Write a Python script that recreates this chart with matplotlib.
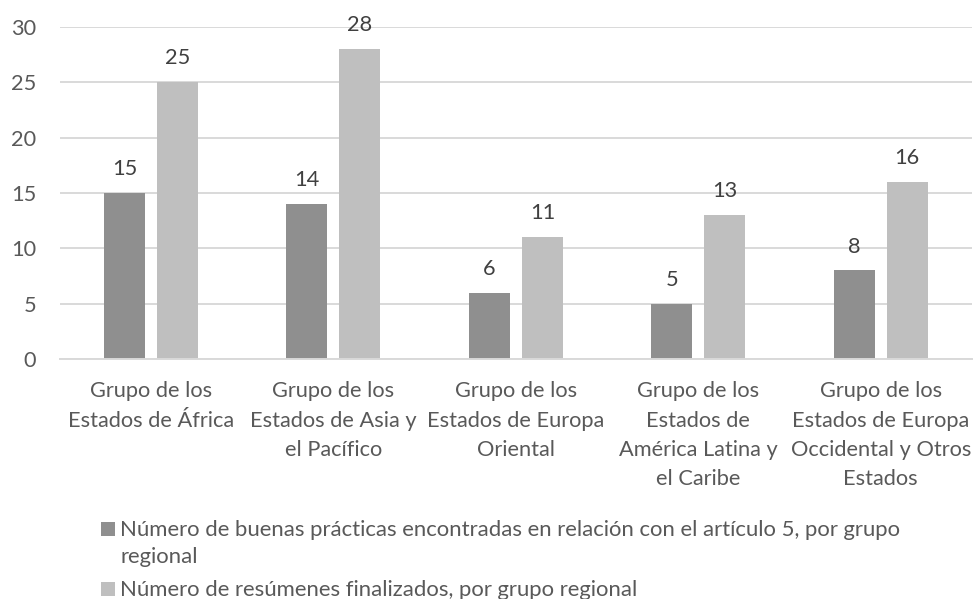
import numpy as np
import matplotlib.pyplot as plt
from matplotlib.patches import Rectangle

# datos del grafico
grupos = [
    "Grupo de los\nEstados de África",
    "Grupo de los\nEstados de Asia y\nel Pacífico",
    "Grupo de los\nEstados de Europa\nOriental",
    "Grupo de los\nEstados de\nAmérica Latina y\nel Caribe",
    "Grupo de los\nEstados de Europa\nOccidental y Otros\nEstados",
]
buenas_practicas = [15, 14, 6, 5, 8]
resumenes = [25, 28, 11, 13, 16]
serie_1 = "Número de buenas prácticas encontradas en relación con el artículo 5, por grupo"
serie_1b = "regional"
serie_2 = "Número de resúmenes finalizados, por grupo regional"

plt.rcParams['font.family'] = ['Lato', 'DejaVu Sans']

color_osc = "#8f8f8f"
color_cla = "#bfbfbf"
texto = "#595959"

W, H = 975, 599
fig = plt.figure(figsize=(W / 100, H / 100), dpi=100)
rend = fig.canvas.get_renderer()


def tam_para(cadena, ancho_px):
    # tamaño de letra para que la cadena mida ancho_px
    t = fig.text(0, 0, cadena, fontsize=10)
    w = t.get_window_extent(renderer=rend).width
    t.remove()
    return 10 * ancho_px / w


fs = tam_para("Estados de África", 166)
fs_ley = tam_para(serie_1, 785)

ax = fig.add_axes([59.75 / W, 1 - 359 / H, (972 - 59.75) / W, 332 / H])

x = np.arange(len(grupos))
ancho = 0.225
b1 = ax.bar(x - 0.145, buenas_practicas, ancho, color=color_osc)
b2 = ax.bar(x + 0.145, resumenes, ancho, color=color_cla)
ax.bar_label(b1, padding=10, fontsize=fs, color="#404040")
ax.bar_label(b2, padding=10, fontsize=fs, color="#404040")

ax.set_xlim(-0.5, len(grupos) - 0.5)
ax.set_ylim(0, 30)
ax.set_yticks(range(0, 31, 5))
ax.yaxis.grid(True, color="#d9d9d9", linewidth=1.4)
ax.set_axisbelow(True)
for s in ["top", "right", "left"]:
    ax.spines[s].set_visible(False)
ax.spines["bottom"].set_color("#d9d9d9")
ax.spines["bottom"].set_linewidth(1.4)
ax.tick_params(axis="both", length=0, labelsize=fs, colors=texto)
ax.tick_params(axis="y", pad=17)
ax.tick_params(axis="x", pad=16)
ax.set_xticks(x)
ax.set_xticklabels(grupos, linespacing=1.58)

# leyenda hecha a mano (el cuadrado va en la primera linea)
for base, col in [(536, color_osc), (596, color_cla)]:
    fig.patches.append(Rectangle((101 / W, 1 - base / H), 14 / W, 14 / H,
                                 transform=fig.transFigure, color=col, lw=0))
for base, cad in [(536, serie_1), (563, serie_1b), (596, serie_2)]:
    fig.text(120 / W, 1 - base / H, cad, fontsize=fs_ley, color=texto, va="baseline")

plt.savefig("out.png")
